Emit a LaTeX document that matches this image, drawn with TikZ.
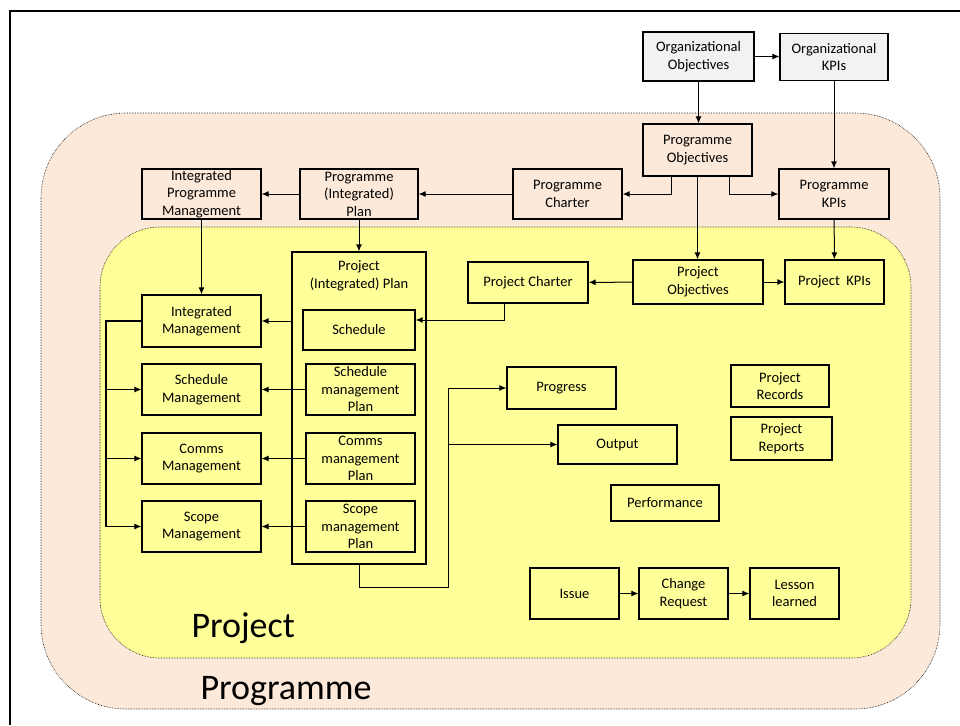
\documentclass[tikz,border=0pt]{standalone}
\usepackage{fontspec}
\setmainfont{Carlito}
\usetikzlibrary{arrows.meta}
\definecolor{peach}{HTML}{FDE9D9}
\definecolor{lemon}{HTML}{FFFF99}
\definecolor{greybox}{HTML}{F2F2F2}

\begin{document}
\begin{tikzpicture}[x=1pt, y=-1pt,
    every node/.style={font=\fontsize{14.5}{17.5}\selectfont},
    box/.style 2 args={
        draw,
        line width=1.2pt,
        align=center,
        inner sep=0pt,
        minimum width=#1,
        minimum height=#2},
    link/.style={-{Latex[length=7pt,width=6pt]}, line width=1pt},
    big/.style={anchor=base west, font=\fontsize{36}{40}\selectfont}]

    \useasboundingbox (0,0) rectangle (960,725);
    \draw[line width=2pt] (10,725) -- (10,11) -- (960,11);

    % programme and project areas
    \draw[densely dotted, line width=.6pt, fill=peach, rounded corners=85pt] (41,113) rectangle (940,709);
    \draw[densely dotted, line width=.6pt, fill=lemon, rounded corners=60pt] (100,227) rectangle (911,658);
    \node[big] (ProjLabel) at (188,637) {Project};
    \node[big] (ProgLabel) at (197,699) {Programme};

    \node[box={111}{49}, fill=greybox] (OrgObj) at (698.5,56.5) {Organizational\\Objectives};
    \node[box={108}{47}, fill=greybox] (OrgKPI) at (834,57) {Organizational\\KPIs};
    \node[box={109}{52}] (ProgObj) at (697.5,150) {Programme\\Objectives};
    \node[box={110}{50}] (ProgKPI) at (834,194) {Programme\\KPIs};
    \node[box={109}{50}] (ProgCharter) at (567.5,194) {Programme\\Charter};
    \node[box={118}{50}] (ProgPlan) at (359,194) {Programme\\(Integrated)\\Plan};
    \node[box={119}{50}] (IntProgMgmt) at (201.5,194) {Integrated\\Programme\\Management};

    \node[box={130}{44}] (ProjObj) at (698,282) {Project\\Objectives};
    \node[box={99}{44}] (ProjKPI) at (834.5,282) {Project~~KPIs};
    \node[box={120}{41}] (ProjCharter) at (528,282.5) {Project Charter};

    \node[box={134}{312}] (ProjPlan) at (359,408) {};
    \node[align=center] (ProjPlanTitle) at (359,276) {Project\\(Integrated) Plan};
    \node[box={112}{40}] (Schedule) at (359,330) {Schedule};
    \node[box={109}{51}] (SchedPlan) at (360.5,389.5) {Schedule\\management\\Plan};
    \node[box={109}{51}] (CommsPlan) at (360.5,458.5) {Comms\\management\\Plan};
    \node[box={109}{51}] (ScopePlan) at (360.5,526.5) {Scope\\management\\Plan};

    \node[box={119}{52}] (IntMgmt) at (201.5,321) {Integrated\\Management};
    \node[box={119}{51}] (SchedMgmt) at (201.5,389.5) {Schedule\\Management};
    \node[box={119}{51}] (CommsMgmt) at (201.5,458.5) {Comms\\Management};
    \node[box={119}{51}] (ScopeMgmt) at (201.5,526.5) {Scope\\Management};

    \node[box={109}{42}] (Progress) at (561.5,388) {Progress};
    \node[box={119}{39}] (Output) at (617.5,444.5) {Output};
    \node[box={108}{36}] (Performance) at (665,503) {Performance};
    \node[box={98}{42}] (Records) at (780,386) {Project\\Records};
    \node[box={101}{43}] (Reports) at (781.5,438.5) {Project\\Reports};

    \node[box={89}{51}] (Issue) at (574.5,593.5) {Issue};
    \node[box={89}{51}] (ChangeReq) at (683.5,593.5) {Change\\Request};
    \node[box={89}{51}] (Lesson) at (794.5,593.5) {Lesson\\learned};

    % programme level
    \draw[link] (OrgObj.east) -- (OrgObj.east -| OrgKPI.west);
    \draw[link] (OrgObj.south) -- (OrgObj.south |- ProgObj.north);
    \draw[link] (OrgKPI) -- (ProgKPI);
    \draw[link] ([xshift=-26.5]ProgObj.south) |- (ProgCharter.east);
    \draw[link] ([xshift=31.5]ProgObj.south) |- (ProgKPI.west);
    \draw[link] (ProgCharter) -- (ProgPlan);
    \draw[link] (ProgPlan) -- (IntProgMgmt);

    % down to the project
    \draw[link] (ProgObj.south) -- (ProgObj.south |- ProjObj.north);
    \draw[link] (ProgKPI) -- (ProjKPI);
    \draw[link] (IntProgMgmt) -- (IntMgmt);
    \draw[link] (ProgPlan) -- (ProjPlan);
    \draw[link] (ProjObj) -- (ProjCharter);
    \draw[link] (ProjObj) -- (ProjKPI);
    \draw[link] ([xshift=-24]ProjCharter.south) |- ([yshift=10]Schedule.east);

    % plans to management
    \draw[link] (ProjPlan.west |- IntMgmt) -- (IntMgmt);
    \draw[link] (SchedPlan) -- (SchedMgmt);
    \draw[link] (CommsPlan) -- (CommsMgmt);
    \draw[link] (ScopePlan) -- (ScopeMgmt);

    \coordinate (Bus) at (106,321);
    \draw[line width=1.5pt] (IntMgmt.west) -- (Bus) -- (Bus |- ScopeMgmt);
    \foreach \m in {SchedMgmt, CommsMgmt, ScopeMgmt}
        \draw[link] (Bus |- \m) -- (\m);

    \coordinate (Loop) at (448,587);
    \draw[link] (ProjPlan.south) |- (Loop) |- (Progress);
    \draw[link] (Loop |- Output) -- (Output);

    \draw[link] (Issue) -- (ChangeReq);
    \draw[link] (ChangeReq) -- (Lesson);
\end{tikzpicture}
\end{document}
